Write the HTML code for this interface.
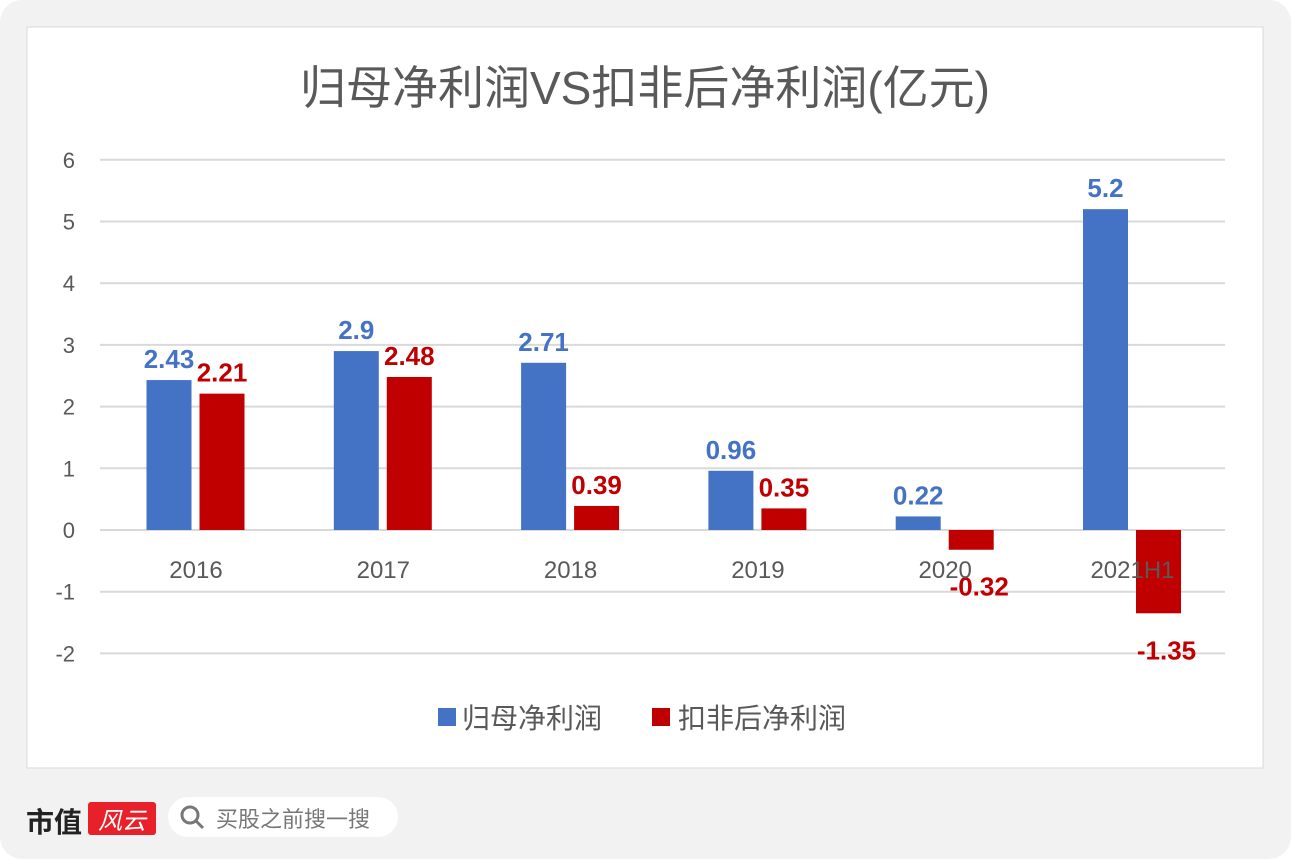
<!DOCTYPE html>
<html><head><meta charset="utf-8"><style>
body{margin:0;width:1291px;height:859px;background:#fff;overflow:hidden;font-family:"Liberation Sans","Noto Sans CJK SC",sans-serif}
#bg{position:absolute;left:0;top:0;width:1291px;height:859px;background:#f2f2f2;border-radius:22px}
</style></head><body>
<div id="bg"></div>
<svg width="1291" height="859" style="position:absolute;left:0;top:0">
<rect x="27" y="27" width="1236" height="741" fill="#fff" stroke="#d9d9d9"/>
<text x="645" y="104" text-anchor="middle" font-size="46" fill="#595959">归母净利润VS扣非后净利润(亿元)</text>
<g id="grid"></g><g id="bars"></g><g id="cats"></g>
<g>
<rect x="438" y="708" width="18" height="18" fill="#4472c4"/>
<text x="462" y="728" font-size="28" fill="#595959">归母净利润</text>
<rect x="652" y="708" width="18" height="18" fill="#c00000"/>
<text x="678" y="728" font-size="28" fill="#595959">扣非后净利润</text>
</g>
<text x="26" y="832" font-size="28" font-weight="bold" fill="#222">市值</text>
<rect x="88" y="802" width="68" height="33" rx="3" fill="#e8202a"/>
<text x="122" y="829" text-anchor="middle" font-size="24" font-style="italic" fill="#fff">风云</text>
<rect x="168" y="797" width="230" height="40" rx="20" fill="#fff"/>
<circle cx="190" cy="815" r="8" fill="none" stroke="#777" stroke-width="3"/>
<line x1="196" y1="821" x2="203" y2="828" stroke="#777" stroke-width="3"/>
<text x="216" y="827" font-size="22" fill="#777">买股之前搜一搜</text>
</svg>
<script>
const categories=["2016","2017","2018","2019","2020","2021H1"];
const guimu=[2.43,2.9,2.71,0.96,0.22,5.2];
const koufei=[2.21,2.48,0.39,0.35,-0.32,-1.35];
const ticks=[6,5,4,3,2,1,0,-1,-2];
const NS="http://www.w3.org/2000/svg";
const y=v=>530-v*61.7;
const x=i=>196+i*187.3;
function mk(t,a,p,txt){const e=document.createElementNS(NS,t);for(const k in a)e.setAttribute(k,a[k]);if(txt!==undefined)e.textContent=txt;p.appendChild(e);return e;}
const grid=document.getElementById('grid'),bars=document.getElementById('bars'),cats=document.getElementById('cats');
ticks.forEach(t=>{
 const l=mk('line',{x1:100,x2:1225,y1:y(t),y2:y(t),stroke:'#d9d9d9','stroke-width':2},grid);
 
 
 const tx=mk('text',{x:75,y:y(t)+8,'text-anchor':'end','font-size':22,fill:'#595959'},grid,String(t));
 
 
});
categories.forEach((c,i)=>{
 const cx=x(i);
 const ct=mk('text',{x:cx,y:578,'text-anchor':'middle','font-size':24,fill:'#595959'},cats,c);
 
 
 [[guimu[i],-27,'#4472c4'],[koufei[i],26,'#c00000']].forEach(([v,o,col])=>{
  const top=Math.min(y(v),y(0)),h=Math.abs(y(v)-y(0));
  const r=mk('rect',{x:cx+o-22.5,y:top,width:45,height:h,fill:col},bars);
  
  
  const ly=v>=0?y(v)-12:y(v)+46;
  const lt=mk('text',{x:cx+o+(v<0?8:0),y:ly,'text-anchor':'middle','font-size':26,'font-weight':'bold',fill:col},bars,String(v));
  
  
 });
});
</script>
</body></html>
